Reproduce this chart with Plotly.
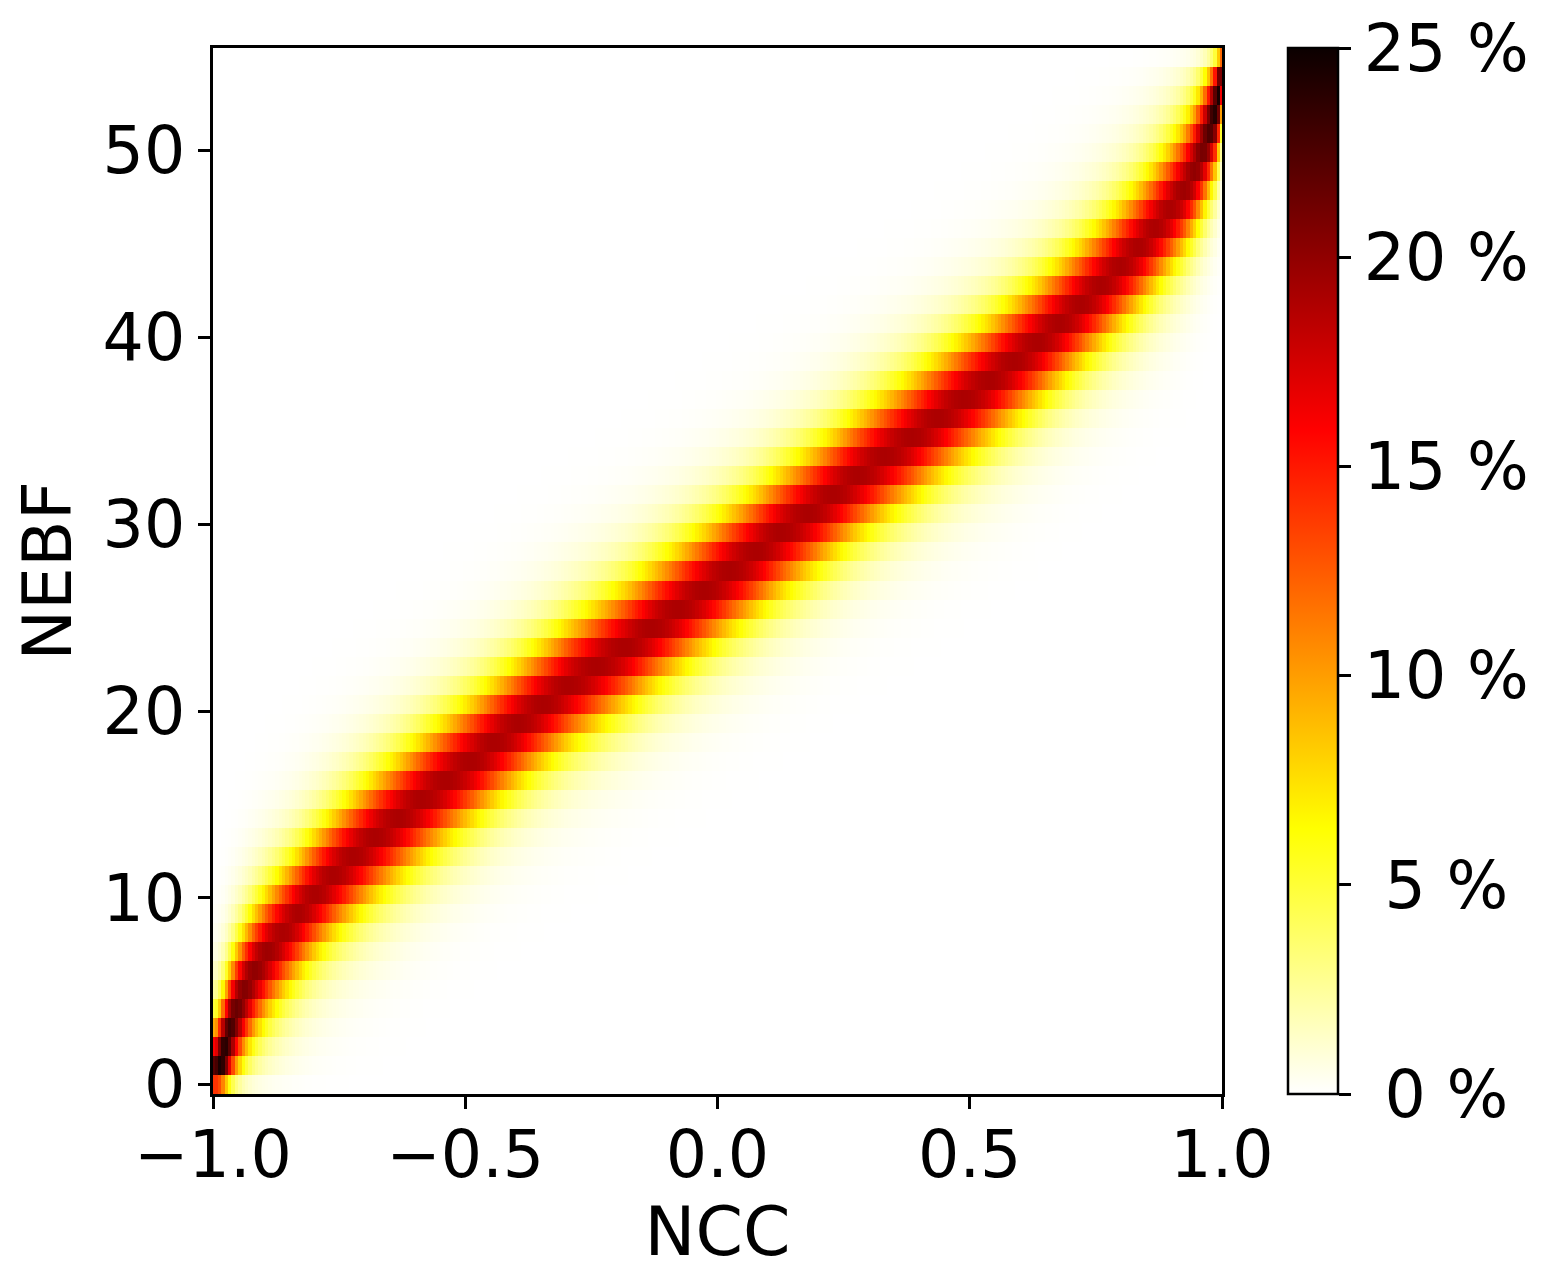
import numpy as np
import plotly.graph_objects as go

# NEBF bins: 55 rows spanning -0.5 .. 55.5 on the y axis
nebf_edges = np.linspace(-0.5, 55.5, 56)

# NCC where each NEBF row is darkest (row 0 at the bottom)
row_center_ncc = [
    -0.995, -0.985, -0.976, -0.966, -0.954, -0.938, -0.918, -0.892, -0.862, -0.830,
    -0.798, -0.762, -0.722, -0.679, -0.633, -0.586, -0.538, -0.489, -0.442, -0.394,
    -0.345, -0.296, -0.240, -0.183, -0.131, -0.078, -0.026, 0.025, 0.077, 0.126,
    0.180, 0.230, 0.279, 0.332, 0.386, 0.437, 0.488, 0.540, 0.587, 0.635,
    0.679, 0.721, 0.761, 0.799, 0.835, 0.868, 0.898, 0.926, 0.947, 0.963,
    0.976, 0.987, 0.993, 0.997, 0.999,
]

# peak percentage in each row
row_peak_pct = [
    14.0, 24.5, 24.0, 23.0, 21.5, 20.5, 20.0, 19.5, 19.0, 19.0,
    19.0, 19.0, 19.0, 19.0, 19.0, 19.0, 19.0, 19.0, 19.0, 19.0,
    19.0, 19.0, 19.0, 19.0, 19.0, 19.0, 19.0, 19.0, 19.0, 19.0,
    19.0, 19.0, 19.0, 19.0, 19.0, 19.0, 19.0, 19.0, 19.0, 19.0,
    19.0, 19.0, 19.0, 19.0, 19.0, 19.0, 19.0, 19.5, 20.0, 21.0,
    22.5, 24.0, 24.5, 23.0, 12.0,
]

# spread of the band, in NEBF rows (core + fainter tail)
core_rows = 2.0
tail_rows = 3.5
tail_weight = 0.25

# NCC grid of the image columns
ncc = np.linspace(-1.0, 1.0, 301)

# build the percentage table
rows = np.arange(len(row_center_ncc))
band_pos = np.interp(ncc, row_center_ncc, rows)
dist = rows[:, None] - band_pos[None, :]
shape = (1 - tail_weight) * np.exp(-dist**2 / (2 * core_rows**2)) \
    + tail_weight * np.exp(-dist**2 / (2 * tail_rows**2))
z = np.array(row_peak_pct)[:, None] * shape

# matplotlib "hot_r"
HOT_R = [
    [0.0, "rgb(255,255,255)"],
    [0.254, "rgb(255,255,0)"],
    [0.635, "rgb(255,0,0)"],
    [1.0, "rgb(11,0,0)"],
]

TICK_FONT = dict(family="DejaVu Sans", size=65, color="black")
TITLE_FONT = dict(family="DejaVu Sans", size=68, color="black")

cbar_vals = [0, 5, 10, 15, 20, 25]
cbar_text = ["\u00a00 %", "\u00a05 %", "10 %", "15 %", "20 %", "25 %"]

fig = go.Figure(go.Heatmap(
    x=ncc,
    y=nebf_edges,
    z=z,
    zmin=0,
    zmax=25,
    colorscale=HOT_R,
    colorbar=dict(
        x=1.0555,
        xanchor="left",
        y=0.5,
        yanchor="middle",
        len=1.0,
        lenmode="fraction",
        thickness=50,
        ypad=0,
        outlinecolor="black",
        outlinewidth=2.5,
        tickvals=cbar_vals,
        ticktext=cbar_text,
        ticks="outside",
        ticklen=12,
        tickwidth=2.5,
        tickcolor="black",
        tickfont=TICK_FONT,
    ),
    hoverinfo="skip",
))

axis_style = dict(
    showline=True,
    linecolor="black",
    linewidth=2.5,
    mirror=True,
    ticks="outside",
    ticklen=12,
    tickwidth=2.5,
    tickcolor="black",
    tickfont=TICK_FONT,
    showgrid=False,
    zeroline=False,
)

fig.update_layout(
    width=1547,
    height=1268,
    margin=dict(l=205, r=333, t=40, b=182),
    paper_bgcolor="white",
    plot_bgcolor="white",
    xaxis=dict(
        range=[-1, 1],
        tickvals=[-1.0, -0.5, 0.0, 0.5, 1.0],
        tickformat=".1f",
        ticklabelstandoff=-10,
        title=dict(text="NCC", font=TITLE_FONT, standoff=10),
        **axis_style,
    ),
    yaxis=dict(
        range=[-0.5, 55.5],
        tickvals=[0, 10, 20, 30, 40, 50],
        title=dict(text="NEBF", font=TITLE_FONT, standoff=18),
        **axis_style,
    ),
)

fig.write_html("out.html")
